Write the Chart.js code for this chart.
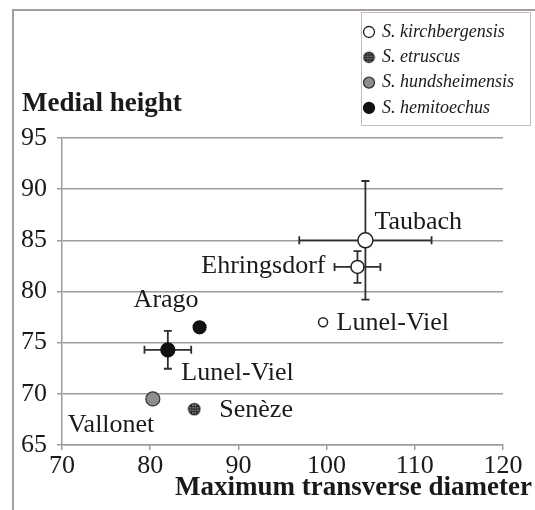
<!DOCTYPE html>
<html>
<head>
<meta charset="utf-8">
<script src="https://cdn.jsdelivr.net/npm/chart.js@4.4.0/dist/chart.umd.min.js"></script>
<style>
    html, body { margin: 0; padding: 0; background: #fff; }
</style>
</head>
<body>
<canvas id="myScatterChart" width="535" height="510"></canvas>
<script>
// Data
var speciesNames = ['S. kirchbergensis', 'S. etruscus', 'S. hundsheimensis', 'S. hemitoechus'];
var siteNames = [['Taubach', 'Ehringsdorf', 'Lunel-Viel'], ['Senèze'], ['Vallonet'], ['Arago', 'Lunel-Viel']];
var diameters = [[104.4, 103.5, 99.6], [85.0], [80.3], [85.6, 82.0]];
var heights = [[85.0, 82.4, 77.0], [68.5], [69.5], [76.5, 74.3]];
var diameterErr = [[7.5, 2.6, 0], [0], [0], [0, 2.65]];
var heightErr = [[5.8, 1.55, 0], [0], [0], [0, 1.85]];
var xTicks = [70, 80, 90, 100, 110, 120];
var yTicks = [65, 70, 75, 80, 85, 90, 95];

// Styles (kept apart from the data)
var serif = "'Liberation Serif', 'Times New Roman', serif";
var gridColor = '#a39b9b';
var inkColor = '#1a1a1a';
var pointRadii = [[7.5, 6.5, 4.5], [6], [7], [6.5, 7]];
// [dx, dy, align] in pixels from the marker
var labelOffsets = [
    [[9, -18, 'left'], [-32, -1, 'right'], [13.5, 1, 'left']],
    [[25, 1, 'left']],
    [[1.5, 26, 'right']],
    [[-1, -27, 'right'], [13.5, 23, 'left']]
];

function hatchedDot(r) {
    var s = Math.ceil(r * 2 + 3);
    var c = document.createElement('canvas');
    c.width = s; c.height = s;
    var g = c.getContext('2d');
    var m = s / 2;
    g.save();
    g.beginPath();
    g.arc(m, m, r, 0, Math.PI * 2);
    g.fillStyle = '#fff';
    g.fill();
    g.clip();
    g.strokeStyle = '#222';
    g.lineWidth = 1.4;
    [-2.5, 0, 2.5].forEach(function (o) {
        g.beginPath(); g.moveTo(m + o, 0); g.lineTo(m + o, s); g.stroke();
        g.beginPath(); g.moveTo(0, m + o); g.lineTo(s, m + o); g.stroke();
    });
    g.restore();
    g.beginPath();
    g.arc(m, m, r, 0, Math.PI * 2);
    g.lineWidth = 1.6;
    g.strokeStyle = '#222';
    g.stroke();
    return c;
}

var etruscusDot = hatchedDot(5.5);
var legendEtruscus = hatchedDot(5);

var fills = ['#ffffff', null, '#8d8d8d', '#111111'];
var strokes = ['#222222', null, '#333333', '#111111'];

var datasets = speciesNames.map(function (name, i) {
    var ds = {
        label: name,
        data: diameters[i].map(function (x, j) { return { x: x, y: heights[i][j] }; }),
        pointRadius: pointRadii[i],
        pointHoverRadius: pointRadii[i],
        showLine: false
    };
    if (i === 1) {
        ds.pointStyle = etruscusDot;
    } else {
        ds.pointStyle = 'circle';
        ds.backgroundColor = fills[i];
        ds.borderColor = strokes[i];
        ds.pointBorderWidth = i === 0 ? 1.5 : 1.2;
    }
    return ds;
});

// Outer frame (top and left edges)
var framePlugin = {
    id: 'frame',
    beforeDraw: function (chart) {
        var ctx = chart.ctx;
        ctx.save();
        ctx.strokeStyle = '#a59d9d';
        ctx.lineWidth = 2;
        ctx.beginPath();
        ctx.moveTo(535, 10);
        ctx.lineTo(13, 10);
        ctx.lineTo(13, 510);
        ctx.stroke();
        ctx.restore();
    }
};

// Error bars, drawn under the markers
var errorBarPlugin = {
    id: 'errorBars',
    beforeDatasetsDraw: function (chart) {
        var ctx = chart.ctx;
        var xs = chart.scales.x, ys = chart.scales.y;
        var cap = 4;
        ctx.save();
        ctx.strokeStyle = '#2e2e2e';
        ctx.lineWidth = 1.8;
        diameters.forEach(function (row, i) {
            row.forEach(function (x, j) {
                var y = heights[i][j];
                var px = xs.getPixelForValue(x), py = ys.getPixelForValue(y);
                var dx = diameterErr[i][j], dy = heightErr[i][j];
                if (dx) {
                    var x0 = xs.getPixelForValue(x - dx), x1 = xs.getPixelForValue(x + dx);
                    ctx.beginPath();
                    ctx.moveTo(x0, py); ctx.lineTo(x1, py);
                    ctx.moveTo(x0, py - cap); ctx.lineTo(x0, py + cap);
                    ctx.moveTo(x1, py - cap); ctx.lineTo(x1, py + cap);
                    ctx.stroke();
                }
                if (dy) {
                    var y0 = ys.getPixelForValue(y - dy), y1 = ys.getPixelForValue(y + dy);
                    ctx.beginPath();
                    ctx.moveTo(px, y0); ctx.lineTo(px, y1);
                    ctx.moveTo(px - cap, y0); ctx.lineTo(px + cap, y0);
                    ctx.moveTo(px - cap, y1); ctx.lineTo(px + cap, y1);
                    ctx.stroke();
                }
            });
        });
        ctx.restore();
    }
};

// Site names next to the markers
var siteLabelPlugin = {
    id: 'siteLabels',
    afterDatasetsDraw: function (chart) {
        var ctx = chart.ctx;
        ctx.save();
        ctx.font = '26px ' + serif;
        ctx.fillStyle = inkColor;
        ctx.textBaseline = 'middle';
        chart.data.datasets.forEach(function (ds, i) {
            var meta = chart.getDatasetMeta(i);
            meta.data.forEach(function (pt, j) {
                var off = labelOffsets[i][j];
                ctx.textAlign = off[2];
                ctx.fillText(siteNames[i][j], pt.x + off[0], pt.y + off[1]);
            });
        });
        ctx.restore();
    }
};

// Axis titles and boxed legend
var decorPlugin = {
    id: 'decor',
    afterDraw: function (chart) {
        var ctx = chart.ctx;
        ctx.save();
        ctx.fillStyle = inkColor;
        ctx.font = 'bold 27px ' + serif;
        ctx.textBaseline = 'alphabetic';
        ctx.textAlign = 'left';
        ctx.fillText('Medial height', 22, 111);
        ctx.textAlign = 'right';
        ctx.fillText('Maximum transverse diameter', 532, 495);

        // legend box
        ctx.strokeStyle = '#c2bebe';
        ctx.lineWidth = 1;
        ctx.strokeRect(361.5, 12.5, 169, 113);
        ctx.font = 'italic 18px ' + serif;
        ctx.textAlign = 'left';
        ctx.textBaseline = 'middle';
        speciesNames.forEach(function (name, i) {
            var y = 32 + i * 25.3;
            var x = 369;
            if (i === 1) {
                ctx.drawImage(legendEtruscus, x - legendEtruscus.width / 2, y - legendEtruscus.height / 2);
            } else {
                ctx.beginPath();
                ctx.arc(x, y, 5.5, 0, Math.PI * 2);
                ctx.fillStyle = fills[i];
                ctx.fill();
                ctx.lineWidth = 1.3;
                ctx.strokeStyle = strokes[i];
                ctx.stroke();
            }
            ctx.fillStyle = inkColor;
            ctx.fillText(name, 382, y);
        });
        ctx.restore();
    }
};

var ctxScatter = document.getElementById('myScatterChart').getContext('2d');
new Chart(ctxScatter, {
    type: 'scatter',
    data: { datasets: datasets },
    plugins: [framePlugin, errorBarPlugin, siteLabelPlugin, decorPlugin],
    options: {
        responsive: false,
        animation: false,
        devicePixelRatio: 1,
        layout: { padding: { top: 138, right: 32, bottom: 0, left: 0 } },
        plugins: {
            legend: { display: false },
            tooltip: { enabled: false }
        },
        scales: {
            x: {
                type: 'linear',
                min: xTicks[0],
                max: xTicks[xTicks.length - 1],
                afterBuildTicks: function (s) { s.ticks = xTicks.map(function (v) { return { value: v }; }); },
                afterFit: function (s) { s.height = 65; },
                ticks: { font: { family: serif, size: 26 }, color: inkColor, padding: 1, maxRotation: 0, autoSkip: false },
                grid: { drawOnChartArea: false, drawTicks: true, tickLength: 5, color: gridColor, lineWidth: 1.5 },
                border: { color: gridColor, width: 1.5 }
            },
            y: {
                type: 'linear',
                min: yTicks[0],
                max: yTicks[yTicks.length - 1],
                afterBuildTicks: function (s) { s.ticks = yTicks.map(function (v) { return { value: v }; }); },
                afterFit: function (s) { s.width = 62; },
                ticks: { font: { family: serif, size: 26 }, color: inkColor, padding: 10, autoSkip: false },
                grid: { drawTicks: true, tickLength: 5, color: gridColor, lineWidth: 1.5 },
                border: { color: gridColor, width: 1.5 }
            }
        }
    }
});
</script>
</body>
</html>
